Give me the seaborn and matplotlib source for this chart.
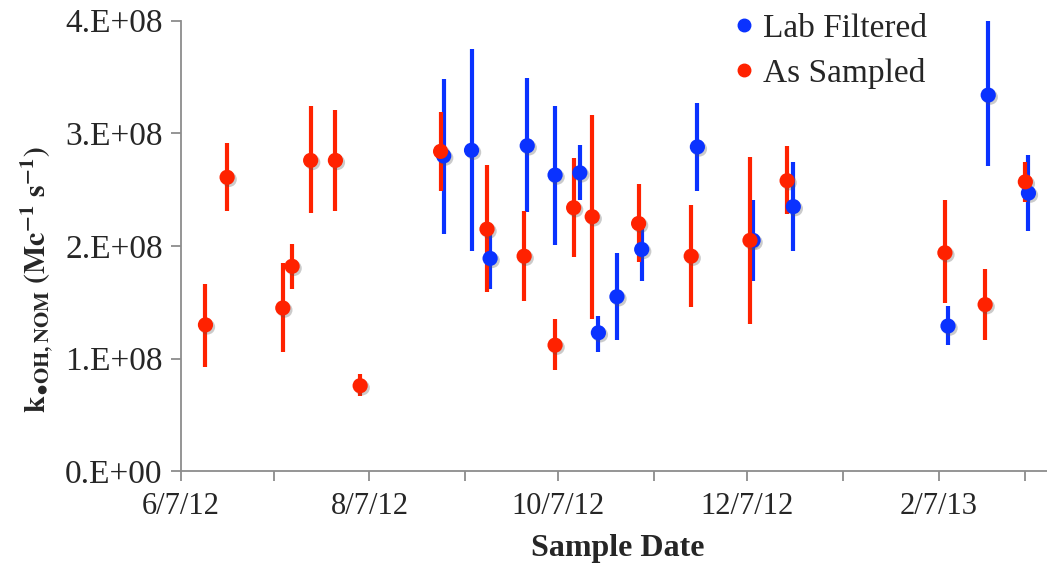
import pandas as pd
import numpy as np
import matplotlib
matplotlib.use("Agg")
import matplotlib.pyplot as plt
import matplotlib.dates as mdates
import matplotlib.patheffects as pe
from matplotlib.lines import Line2D
import seaborn as sns

# As Sampled (red) -- values in units of 1E8
red_dates = ["2012-06-15", "2012-06-22", "2012-07-10", "2012-07-13", "2012-07-19",
             "2012-07-27", "2012-08-04", "2012-08-30", "2012-09-14", "2012-09-26",
             "2012-10-06", "2012-10-12", "2012-10-18", "2012-11-02", "2012-11-19",
             "2012-12-08", "2012-12-20", "2013-02-09", "2013-02-22", "2013-03-07"]
red_vals = [1.30, 2.61, 1.45, 1.82, 2.76, 2.76, 0.76, 2.84, 2.15, 1.91,
            1.12, 2.34, 2.26, 2.20, 1.91, 2.05, 2.58, 1.94, 1.48, 2.57]
red_lo = [0.93, 2.31, 1.06, 1.62, 2.29, 2.31, 0.67, 2.49, 1.59, 1.51,
          0.90, 1.90, 1.35, 1.86, 1.46, 1.31, 2.28, 1.49, 1.17, 2.39]
red_hi = [1.66, 2.91, 1.85, 2.02, 3.24, 3.21, 0.86, 3.19, 2.72, 2.31,
          1.35, 2.78, 3.16, 2.55, 2.36, 2.79, 2.89, 2.41, 1.80, 2.75]

# Lab Filtered (blue)
blue_dates = ["2012-08-31", "2012-09-09", "2012-09-15", "2012-09-27", "2012-10-06",
              "2012-10-14", "2012-10-20", "2012-10-26", "2012-11-03", "2012-11-21",
              "2012-12-09", "2012-12-22", "2013-02-10", "2013-02-23", "2013-03-08"]
blue_vals = [2.80, 2.85, 1.89, 2.89, 2.63, 2.65, 1.23, 1.55, 1.97, 2.88,
             2.05, 2.35, 1.29, 3.34, 2.47]
blue_lo = [2.11, 1.96, 1.62, 2.30, 2.01, 2.41, 1.06, 1.17, 1.69, 2.49,
           1.69, 1.96, 1.12, 2.71, 2.13]
blue_hi = [3.48, 3.75, 2.11, 3.49, 3.24, 2.90, 1.38, 1.94, 2.16, 3.27,
           2.41, 2.75, 1.47, 4.00, 2.81]

series_names = ["Lab Filtered", "As Sampled"]
colors = {"Lab Filtered": "#0a32ff", "As Sampled": "#ff2200"}

df = pd.concat([
    pd.DataFrame({"date": pd.to_datetime(blue_dates), "k": np.array(blue_vals) * 1e8,
                  "lo": np.array(blue_lo) * 1e8, "hi": np.array(blue_hi) * 1e8,
                  "series": "Lab Filtered"}),
    pd.DataFrame({"date": pd.to_datetime(red_dates), "k": np.array(red_vals) * 1e8,
                  "lo": np.array(red_lo) * 1e8, "hi": np.array(red_hi) * 1e8,
                  "series": "As Sampled"}),
], ignore_index=True)

sns.set_theme(style="white")
plt.rcParams['font.family'] = ['Liberation Serif', 'DejaVu Serif']
plt.rcParams['mathtext.fontset'] = 'stix'

fig = plt.figure(figsize=(10.47, 5.69), dpi=100)
ax = fig.add_axes([0.1726, 0.1717, 0.8274, 0.7919])

# error bars first, markers on top
for name in series_names:
    sub = df[df["series"] == name]
    ax.vlines(sub["date"], sub["lo"], sub["hi"], color=colors[name], lw=3.0, zorder=2)

sns.scatterplot(data=df, x="date", y="k", hue="series", palette=colors,
                s=120, edgecolor="none", legend=False, ax=ax, zorder=3)
ax.collections[-1].set_path_effects([
    pe.SimplePatchShadow(offset=(1.5, -1.5), shadow_rgbFace="#555555", alpha=0.3),
    pe.Normal()])

ax.set_xlim(pd.Timestamp("2012-06-07"), pd.Timestamp("2013-03-14"))
ax.set_ylim(0, 4e8)
ax.set_yticks([0, 1e8, 2e8, 3e8, 4e8])
ax.yaxis.set_major_formatter(plt.FuncFormatter(
    lambda v, p: "0.E+00" if v == 0 else f"{v / 1e8:.0f}.E+08"))

ax.xaxis.set_major_locator(mdates.MonthLocator(bymonth=[2, 4, 6, 8, 10, 12], bymonthday=7))
ax.xaxis.set_minor_locator(mdates.MonthLocator(bymonthday=7))
ax.xaxis.set_major_formatter(plt.FuncFormatter(
    lambda v, p: (lambda d: f"{d.month}/{d.day}/{d.strftime('%y')}")(mdates.num2date(v))))

for s in ["top", "right"]:
    ax.spines[s].set_visible(False)
for s in ["left", "bottom"]:
    ax.spines[s].set_color("#8c8c8c")
    ax.spines[s].set_linewidth(1.3)

ax.tick_params(axis="both", which="both", direction="out", color="#8c8c8c",
               length=7, width=1.3, left=True, bottom=True)
ax.tick_params(axis="y", labelsize=24, pad=6)
ax.tick_params(axis="x", labelsize=22, pad=8)

ax.set_ylabel(r"$\mathbf{k_{\bullet OH,NOM}\ (Mc^{-1}\ s^{-1})}$", fontsize=21.5)
ax.yaxis.set_label_coords(-0.145, 0.425)
ax.set_xlabel("Sample Date", fontsize=23, fontweight="bold")
ax.xaxis.set_label_coords(0.505, -0.14)

handles = [Line2D([], [], ls="none", marker="o", markersize=9, color=colors[n]) for n in series_names]
ax.legend(handles, series_names, loc="upper left", bbox_to_anchor=(0.62, 1.053),
          frameon=False, fontsize=24, handlelength=0.6, handletextpad=0.25,
          labelspacing=0.42, borderpad=0)

fig.savefig("out.png", dpi=100)
